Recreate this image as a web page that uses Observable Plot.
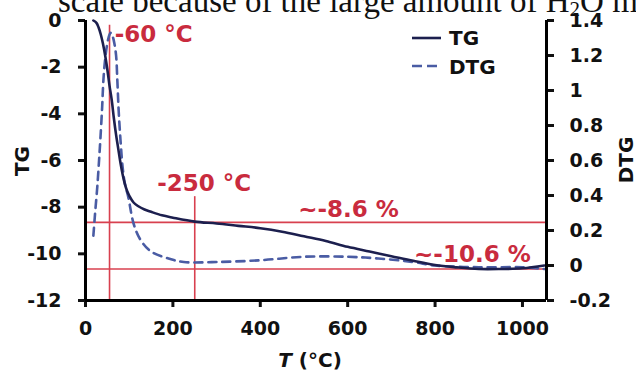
<!DOCTYPE html>
<html><head><meta charset="utf-8">
<script src="https://cdn.jsdelivr.net/npm/d3@7"></script>
<script src="https://cdn.jsdelivr.net/npm/@observablehq/plot@0.6"></script>
<style>
body{margin:0;background:#fff;}
#wrap{position:relative;width:636px;height:374px;overflow:hidden;}
</style></head>
<body><div id="wrap"></div>
<script>
// TG curve (T in °C, TG in %)
const tgT   = [18, 25, 30, 35, 40, 45, 50, 55, 60, 65, 70, 75, 80, 85, 90, 95, 100, 110, 120, 135, 150, 175, 200, 250, 300, 350, 400, 450, 500, 550, 600, 650, 700, 750, 800, 850, 900, 950, 1000, 1050];
const tgVal = [0, -0.1, -0.3, -0.6, -1.0, -1.5, -2.1, -2.8, -3.4, -4.2, -4.9, -5.5, -6.1, -6.6, -7.0, -7.3, -7.5, -7.8, -7.95, -8.1, -8.2, -8.35, -8.45, -8.62, -8.7, -8.8, -8.9, -9.05, -9.25, -9.45, -9.7, -9.9, -10.1, -10.3, -10.48, -10.58, -10.65, -10.65, -10.62, -10.5];
// DTG curve
const dtgT   = [18, 22, 27, 31, 34, 38, 41, 45, 50, 55, 58, 62, 66, 70, 73, 76, 80, 85, 90, 98, 110, 125, 150, 190, 225, 300, 400, 500, 600, 670, 750, 800, 900, 1000, 1050];
const dtgVal = [0.17, 0.3, 0.45, 0.6, 0.72, 0.9, 1.06, 1.18, 1.27, 1.32, 1.33, 1.31, 1.27, 1.2, 1.05, 0.88, 0.72, 0.56, 0.47, 0.39, 0.24, 0.15, 0.08, 0.04, 0.02, 0.02, 0.03, 0.05, 0.05, 0.04, 0.02, 0.0, -0.01, -0.01, -0.02];
// axes
const xTicks = [0, 200, 400, 600, 800, 1000];
const tgTicks = [0, -2, -4, -6, -8, -10, -12];
const dtgTicks = [-0.2, 0, 0.2, 0.4, 0.6, 0.8, 1, 1.2, 1.4];
// annotations
const vLines = [{T: 55, y1: -0.2}, {T: 250, y1: -7.55}];
const hLines = [-8.65, -10.65];
const notes = [
  {T: 67, y: -0.9, label: "-60 °C"},
  {T: 164, y: -7.3, label: "-250 °C"},
  {T: 487, y: -8.4, label: "~-8.6 %"},
  {T: 752, y: -10.35, label: "~-10.6 %"}
];

const toTG = d => (d - 1.4) * 7.5; // DTG -> TG position
const tgData = tgT.map((t, i) => ({T: t, v: tgVal[i]}));
const dtgData = dtgT.map((t, i) => ({T: t, v: toTG(dtgVal[i])}));
const red = "#d8404f";

const plot = Plot.plot({
  width: 636, height: 374,
  marginLeft: 85, marginRight: 90, marginTop: 20, marginBottom: 74,
  style: {fontFamily: "DejaVu Sans", fontSize: "19px", fontWeight: "bold", color: "#111", background: "#fff"},
  x: {domain: [0, 1055]},
  y: {domain: [-12, 0]},
  marks: [
    Plot.ruleX(vLines, {x: "T", y1: "y1", y2: -12, stroke: red, strokeWidth: 1.6}),
    Plot.ruleY(hLines, {y: d => d, x1: 0, x2: 1055, stroke: red, strokeWidth: 1.6}),
    Plot.line(dtgData, {x: "T", y: "v", stroke: "#4a5ca4", strokeWidth: 2.6, strokeDasharray: "8,6", curve: "catmull-rom"}),
    Plot.line(tgData, {x: "T", y: "v", stroke: "#1c1f4e", strokeWidth: 2.6, curve: "catmull-rom"}),
    Plot.text(notes, {x: "T", y: "y", text: "label", textAnchor: "start", lineAnchor: "bottom", fill: "#c92b3e", fontSize: 23, fontWeight: "bold"}),
    Plot.axisX({ticks: xTicks, tickFormat: d => String(d), tickSize: 7, tickPadding: 14, strokeWidth: 3, label: null, fill: "#111"}),
    Plot.axisY({ticks: tgTicks, tickFormat: d => String(d), tickSize: 7, tickPadding: 17, strokeWidth: 3, label: null, anchor: "left"}),
    Plot.axisY({ticks: dtgTicks.map(toTG), tickFormat: (d, i) => String(dtgTicks[i]), tickSize: 7, tickPadding: 16, strokeWidth: 3, label: null, anchor: "right"}),
    Plot.ruleX([0, 1055], {stroke: "#000", strokeWidth: 3}),
    Plot.ruleY([-12], {x1: 0, x2: 1055, stroke: "#000", strokeWidth: 3})
  ]
});
document.getElementById("wrap").appendChild(plot);

const svg = d3.select(plot);
// clipped text from the page above
svg.append("text").attr("x", 58).attr("y", 12).attr("text-anchor", "start")
  .attr("font-family", "Liberation Serif").attr("font-size", 33).attr("font-weight", "normal").attr("fill", "#111")
  .html('scale because of the large amount of H<tspan font-size="21" dy="4">2</tspan><tspan dy="-4">O mo</tspan>');
// axis titles
svg.append("text").attr("transform", "translate(29,161) rotate(-90)").attr("text-anchor", "middle")
  .attr("font-size", 20).attr("font-weight", "bold").attr("fill", "#111").text("TG");
svg.append("text").attr("transform", "translate(633,160) rotate(-90)").attr("text-anchor", "middle")
  .attr("font-size", 20).attr("font-weight", "bold").attr("fill", "#111").text("DTG");
svg.append("text").attr("x", 310).attr("y", 367).attr("text-anchor", "middle")
  .attr("font-size", 20).attr("font-weight", "bold").attr("fill", "#111")
  .html('<tspan font-style="italic">T</tspan> (°C)');
// legend
const lg = svg.append("g").attr("text-anchor", "start");
lg.append("line").attr("x1", 412).attr("x2", 441).attr("y1", 38).attr("y2", 38).attr("stroke", "#1c1f4e").attr("stroke-width", 2.6);
lg.append("line").attr("x1", 412).attr("x2", 441).attr("y1", 66).attr("y2", 66).attr("stroke", "#4a5ca4").attr("stroke-width", 2.6).attr("stroke-dasharray", "10,5");
lg.append("text").attr("x", 449).attr("y", 45).attr("font-size", 20).attr("font-weight", "bold").attr("fill", "#111").text("TG");
lg.append("text").attr("x", 449).attr("y", 74).attr("font-size", 20).attr("font-weight", "bold").attr("fill", "#111").text("DTG");
</script></body></html>
